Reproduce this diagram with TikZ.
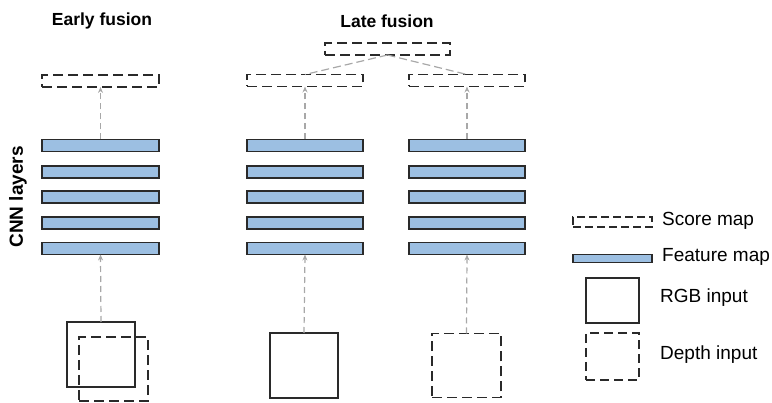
\documentclass[tikz,border=0pt]{standalone}
\usepackage{fontspec}
\setmainfont{Liberation Sans}
\usetikzlibrary{arrows.meta}
\definecolor{barblue}{HTML}{9CBFE2}
\definecolor{edge}{HTML}{2A2A2A}
\definecolor{conn}{HTML}{A8A8A8}
\tikzset{
  fmap/.style={draw=edge, line width=1.4pt, fill=barblue, minimum width=117pt, minimum height=12pt, inner sep=0pt, outer sep=0pt},
  smap/.style={draw=edge, line width=1.5pt, dash pattern=on 10pt off 5pt, minimum width=117pt, minimum height=12pt, inner sep=0pt, outer sep=0pt},
  rgbbox/.style={draw=edge, line width=1.4pt, minimum width=68pt, minimum height=65pt, inner sep=0pt, outer sep=0pt},
  depthbox/.style={draw=edge, line width=1.5pt, dash pattern=on 10pt off 5pt, minimum width=69pt, minimum height=64pt, inner sep=0pt, outer sep=0pt},
  flow/.style={draw=conn, line width=1.2pt, dash pattern=on 6pt off 4pt, -{Stealth[length=6pt,width=5pt]}},
  fuse/.style={draw=conn, line width=1.2pt, dash pattern=on 8pt off 4pt},
  title/.style={font=\fontsize{17.5}{19}\selectfont\bfseries, inner sep=0pt},
  legtext/.style={font=\fontsize{19}{21}\selectfont, anchor=west, inner sep=0pt},
}
\begin{document}
\begin{tikzpicture}[x=1pt, y=-1pt]
\useasboundingbox (0,0) rectangle (772,403);

% titles
\node[title] (t1) at (102,21) {Early fusion};
\node[title] (t2) at (387,21) {Late fusion};
\node[title, font=\fontsize{19}{21}\selectfont\bfseries, rotate=90] (cnn) at (18,197) {CNN layers};

% early fusion column
\node[smap] (es) at (100.5,81) {};
\node[fmap] (e1) at (100.5,145.5) {};
\node[fmap] (e2) at (100.5,172) {};
\node[fmap] (e3) at (100.5,197) {};
\node[fmap] (e4) at (100.5,223) {};
\node[fmap] (e5) at (100.5,248.5) {};
\node[rgbbox] (ergb) at (101,354.5) {};
\node[depthbox] (edep) at (113.5,369) {};
\draw[flow] (e1.north) -- (es.south);
\draw[flow] (ergb.north) -- (e5.south);

% late fusion left column
\node[smap, minimum width=116pt] (ls) at (305,80.5) {};
\node[fmap, minimum width=116pt] (l1) at (305,145.5) {};
\node[fmap, minimum width=116pt] (l2) at (305,172) {};
\node[fmap, minimum width=116pt] (l3) at (305,197) {};
\node[fmap, minimum width=116pt] (l4) at (305,223) {};
\node[fmap, minimum width=116pt] (l5) at (305,248.5) {};
\node[rgbbox] (lrgb) at (304,365.5) {};
\draw[flow] (l1.north) -- (ls.south);
\draw[flow] (lrgb.north) -- (l5.south);

% late fusion right column
\node[smap, minimum width=116pt] (rs) at (467,80.5) {};
\node[fmap, minimum width=116pt] (r1) at (467,145.5) {};
\node[fmap, minimum width=116pt] (r2) at (467,172) {};
\node[fmap, minimum width=116pt] (r3) at (467,197) {};
\node[fmap, minimum width=116pt] (r4) at (467,223) {};
\node[fmap, minimum width=116pt] (r5) at (467,248.5) {};
\node[depthbox] (rdep) at (466.5,365.5) {};
\draw[flow] (r1.north) -- (rs.south);
\draw[flow] (rdep.north) -- (r5.south);

% fused score map
\node[smap, minimum width=125pt] (top) at (387.5,49) {};
\draw[fuse] (top.south) -- (ls.north);
\draw[fuse] (top.south) -- (rs.north);

% legend
\node[smap, minimum width=79pt, minimum height=10pt, dash pattern=on 8pt off 4pt] (lg1) at (612.5,222) {};
\node[legtext] (lt1) at (662,221) {Score map};
\node[fmap, minimum width=79pt, minimum height=8pt] (lg2) at (612.5,258.5) {};
\node[legtext] (lt2) at (662,257) {Feature map};
\node[rgbbox, minimum width=53pt, minimum height=45pt] (lg3) at (612.5,300.5) {};
\node[legtext] (lt3) at (660,298) {RGB input};
\node[depthbox, minimum width=53pt, minimum height=47pt, dash pattern=on 9pt off 5pt] (lg4) at (612.5,356.5) {};
\node[legtext] (lt4) at (660,355) {Depth input};
\end{tikzpicture}
\end{document}
